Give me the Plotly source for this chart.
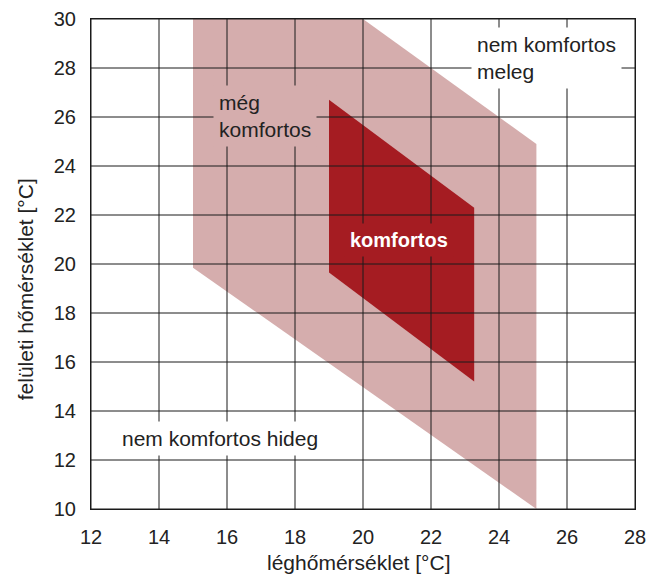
import plotly.graph_objects as go

# Data
x_ticks = [12, 14, 16, 18, 20, 22, 24, 26, 28]
y_ticks = [10, 12, 14, 16, 18, 20, 22, 24, 26, 28, 30]

still_comfort_x = [15.0, 20.0, 25.1, 25.1, 15.0]
still_comfort_y = [30.0, 30.0, 24.9, 10.0, 19.85]

comfort_x = [19.0, 23.27, 23.27, 19.0]
comfort_y = [26.7, 22.3, 15.2, 19.65]

LIGHT = "#d5adad"
DARK = "#a51c22"
FONT = "Liberation Sans, Arial, sans-serif"
TXT = "#222222"

fig = go.Figure()

fig.add_trace(go.Scatter(x=still_comfort_x, y=still_comfort_y, fill="toself",
                         fillcolor=LIGHT, line=dict(width=0), mode="lines",
                         hoverinfo="skip", showlegend=False))
fig.add_trace(go.Scatter(x=comfort_x, y=comfort_y, fill="toself",
                         fillcolor=DARK, line=dict(width=0), mode="lines",
                         hoverinfo="skip", showlegend=False))

# grid lines drawn above the regions
gx, gy = [], []
for t in x_ticks:
    gx += [t, t, None]
    gy += [y_ticks[0], y_ticks[-1], None]
for t in y_ticks:
    gx += [x_ticks[0], x_ticks[-1], None]
    gy += [t, t, None]
fig.add_trace(go.Scatter(x=gx, y=gy, mode="lines",
                         line=dict(color="#1a1a1a", width=1),
                         hoverinfo="skip", showlegend=False))

ann = [
    dict(x=25.41, y=28.41, text="nem komfortos<br>meleg", bgcolor="white",
         font=dict(color=TXT, size=21, family=FONT), align="left"),
    dict(x=17.12, y=26.04, text="még<br>komfortos", bgcolor=LIGHT,
         font=dict(color=TXT, size=21, family=FONT), align="left"),
    dict(x=21.06, y=21.0, text="<b>komfortos</b>", bgcolor=DARK,
         font=dict(color="white", size=20, family=FONT), align="center"),
    dict(x=15.79, y=12.86, text="nem komfortos hideg", bgcolor="white",
         font=dict(color=TXT, size=21, family=FONT), align="center"),
]
for a in ann:
    fig.add_annotation(xref="x", yref="y", showarrow=False, borderpad=5, **a)

fig.add_annotation(xref="paper", yref="paper", x=0.491, y=-0.11,
                   xanchor="center", yanchor="middle", borderpad=0,
                   text="léghőmérséklet [°C]", showarrow=False,
                   font=dict(color=TXT, size=21, family=FONT))
fig.add_annotation(xref="paper", yref="paper", x=-0.119, y=0.449,
                   xanchor="center", yanchor="middle", borderpad=0,
                   text="felületi hőmérséklet [°C]", showarrow=False, textangle=-90,
                   font=dict(color=TXT, size=21, family=FONT))

fig.update_xaxes(range=[12, 28], tickvals=x_ticks, showgrid=False, zeroline=False,
                 showline=True, linecolor="#1a1a1a", linewidth=1, mirror=True,
                 ticks="", ticklabelstandoff=10, ticklabeloverflow="allow",
                 automargin=False,
                 tickfont=dict(size=20, family=FONT, color=TXT))
fig.update_yaxes(range=[10, 30], tickvals=y_ticks, showgrid=False, zeroline=False,
                 showline=True, linecolor="#1a1a1a", linewidth=1, mirror=True,
                 ticks="", ticklabelstandoff=10, ticklabeloverflow="allow",
                 automargin=False,
                 tickfont=dict(size=20, family=FONT, color=TXT))

fig.update_layout(width=651, height=569, margin=dict(l=83, r=24, t=11, b=68),
                  plot_bgcolor="white", paper_bgcolor="white")

fig.write_html("out.html")
